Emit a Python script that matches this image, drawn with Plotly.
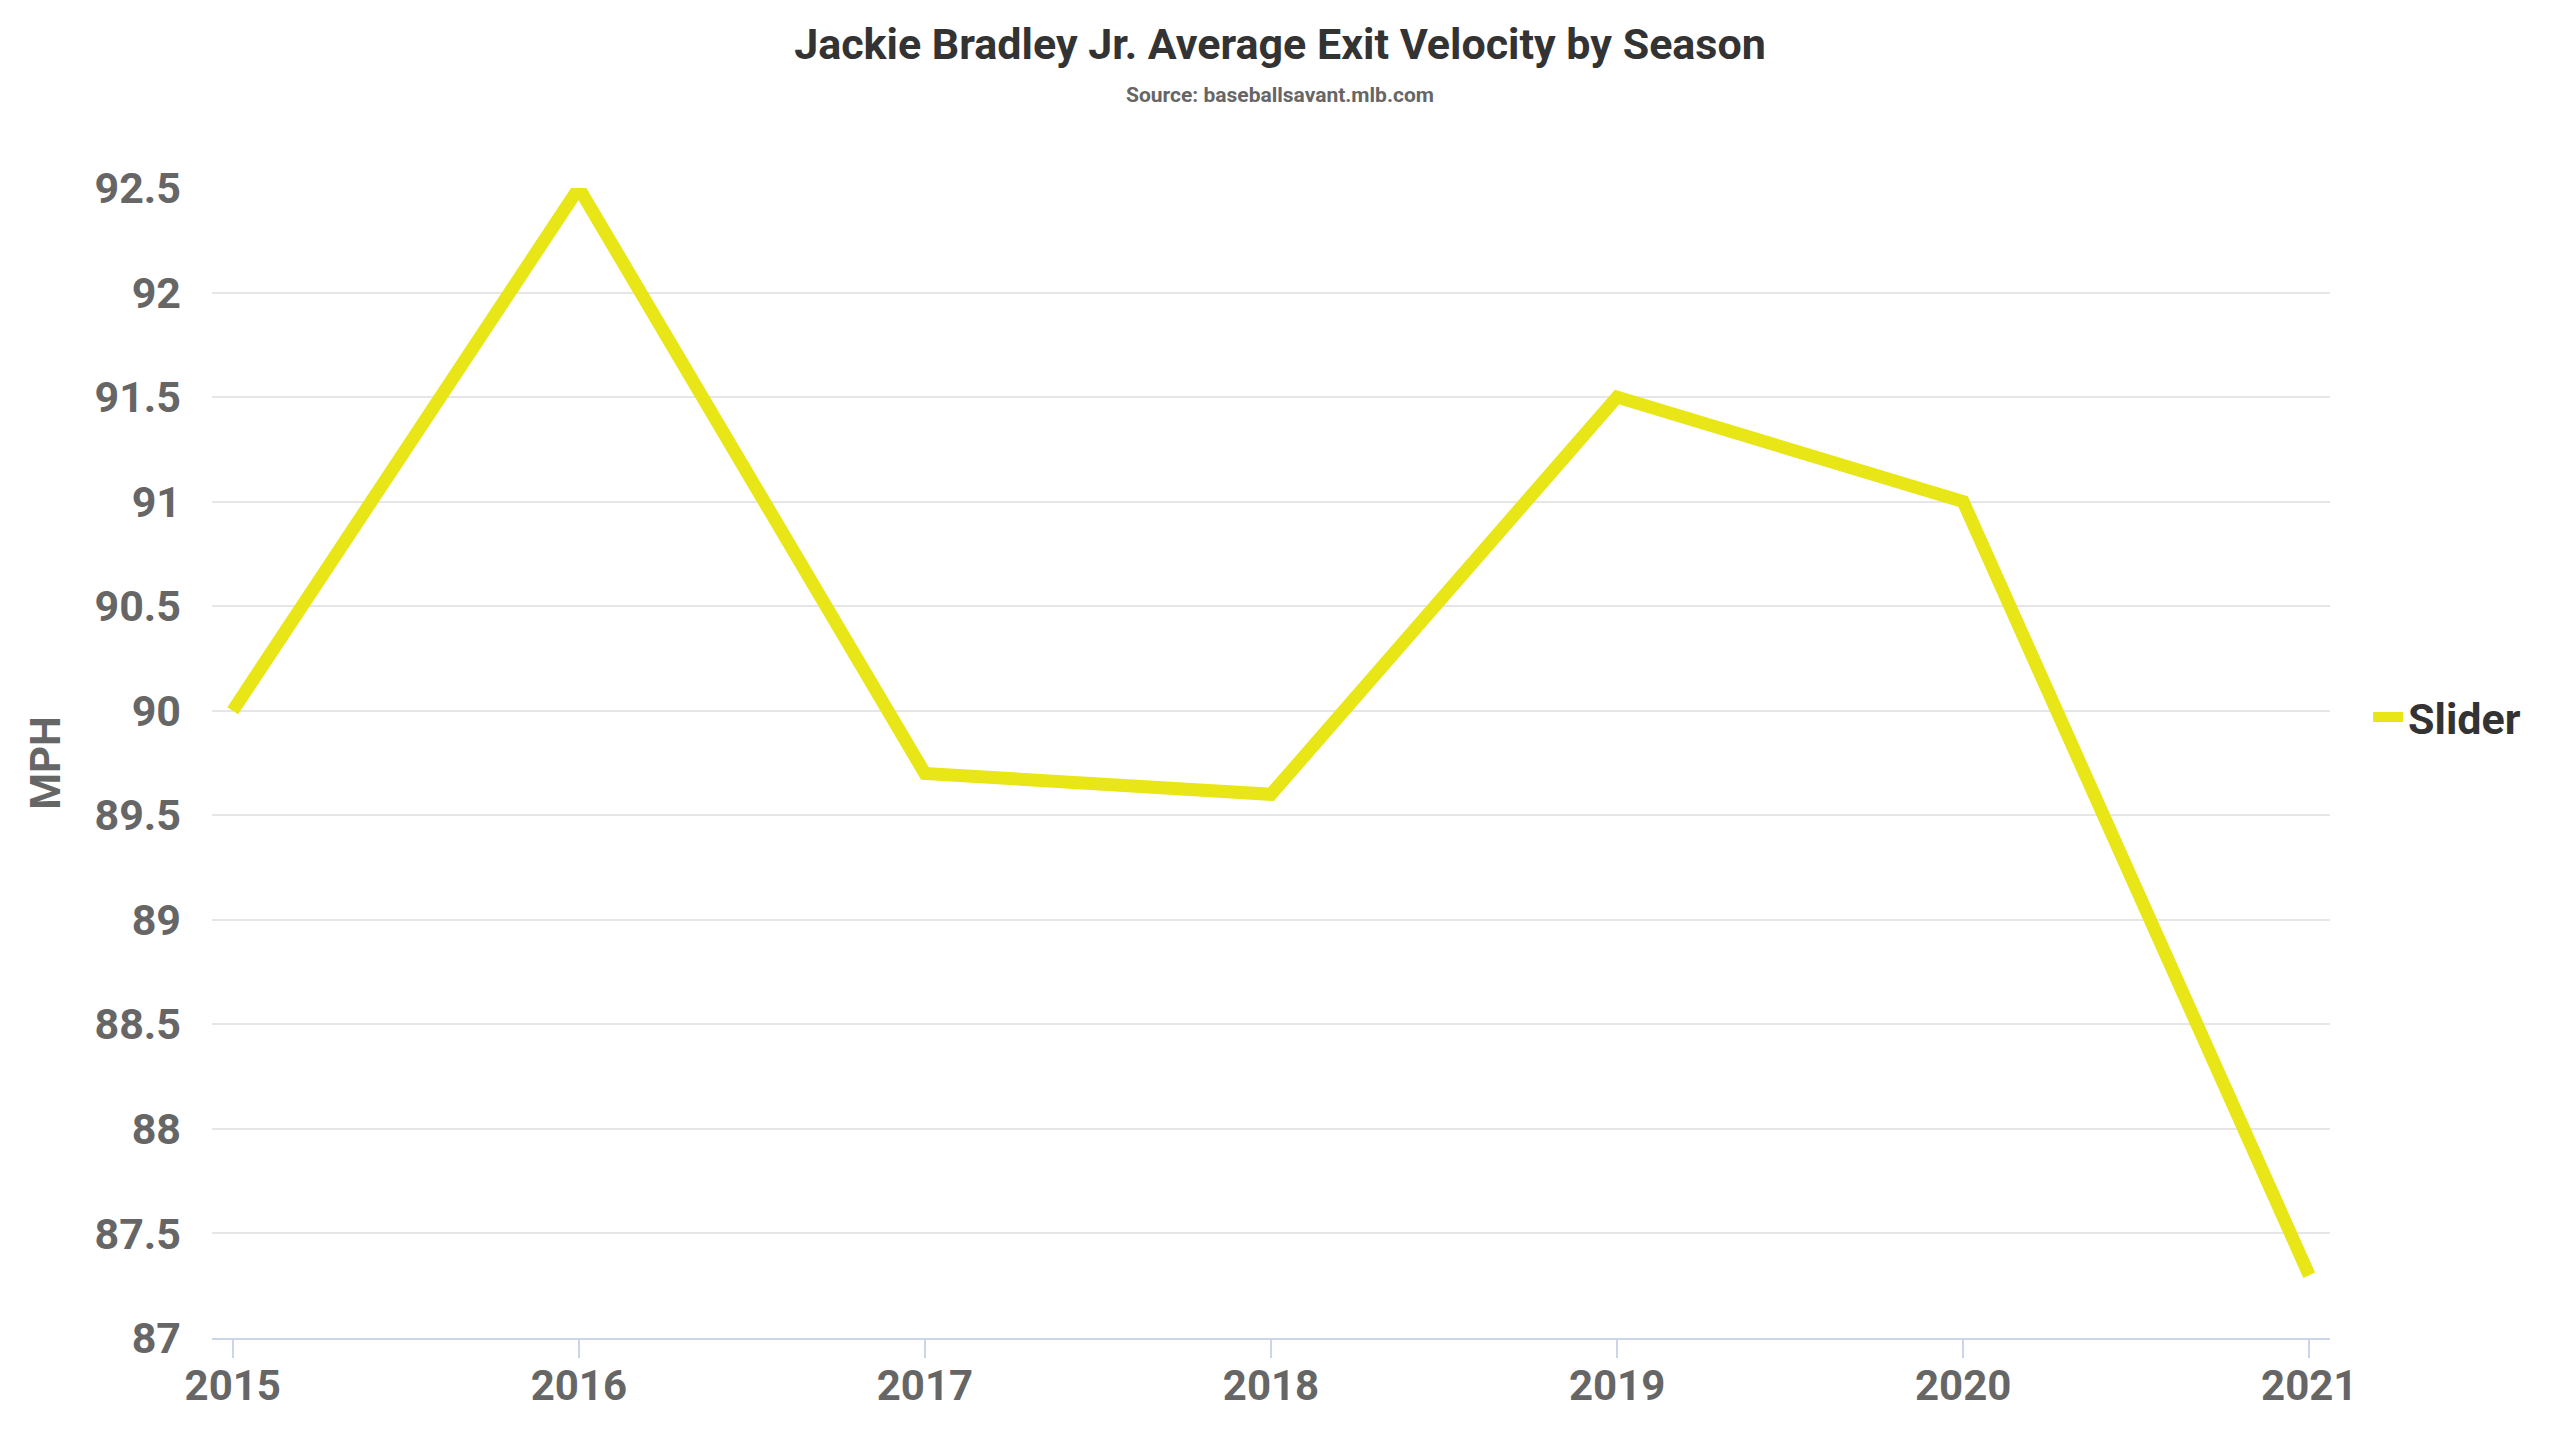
import plotly.graph_objects as go

# Data
seasons = [2015, 2016, 2017, 2018, 2019, 2020, 2021]
exit_velocity = [90.0, 92.5, 89.7, 89.6, 91.5, 91.0, 87.3]
y_ticks = [87, 87.5, 88, 88.5, 89, 89.5, 90, 90.5, 91, 91.5, 92, 92.5]
y_tick_labels = ["87", "87.5", "88", "88.5", "89", "89.5", "90", "90.5", "91", "91.5", "92", "92.5"]

FONT = "Roboto, sans-serif"
LINE_COLOR = "#e8e617"

W, H = 2560, 1440
M_LEFT, M_RIGHT = 204, 238
M_TOP, M_BOT = 180, 110
PLOT_H = H - M_TOP - M_BOT
PLOT_W = W - M_LEFT - M_RIGHT
CENTER_X = 1272  # horizontal centre of the title block in the reference

fig = go.Figure()

fig.add_trace(
    go.Scatter(
        x=seasons,
        y=exit_velocity,
        mode="lines",
        name="<b>Slider</b>",
        line=dict(color=LINE_COLOR, width=13),
        hoverinfo="x+y",
    )
)

fig.update_layout(
    width=W,
    height=H,
    paper_bgcolor="white",
    plot_bgcolor="white",
    margin=dict(l=M_LEFT, r=M_RIGHT, t=M_TOP, b=M_BOT, autoexpand=False),
    font=dict(family=FONT),
    title=dict(
        text="<b>Jackie Bradley Jr. Average Exit Velocity by Season</b>",
        x=CENTER_X / W,
        xref="container",
        xanchor="center",
        y=1 - 36 / H,
        yref="container",
        yanchor="middle",
        font=dict(size=43, color="#333333", family=FONT),
    ),
    legend=dict(
        x=1.018,
        xanchor="left",
        y=(H - M_BOT - 709) / PLOT_H,
        yanchor="middle",
        font=dict(size=43, color="#333333", family=FONT),
        itemwidth=30,
        bgcolor="rgba(0,0,0,0)",
    ),
    showlegend=True,
)

# Subtitle
fig.add_annotation(
    text="<b>Source: baseballsavant.mlb.com</b>",
    xref="paper",
    yref="paper",
    x=(CENTER_X - M_LEFT) / PLOT_W,
    y=1 + (M_TOP - 87) / PLOT_H,
    xanchor="center",
    yanchor="middle",
    showarrow=False,
    font=dict(size=21, color="#666666", family=FONT),
)

fig.update_xaxes(
    range=[2014.94, 2021.06],
    tickmode="array",
    tickvals=seasons,
    ticktext=[f"<b>{s}</b>" for s in seasons],
    showgrid=False,
    showline=True,
    linecolor="#ccd6eb",
    linewidth=2,
    ticks="outside",
    ticklen=18,
    tickwidth=2,
    tickcolor="#ccd6eb",
    ticklabelstandoff=-8,
    tickfont=dict(size=42, color="#666666", family=FONT),
    zeroline=False,
    fixedrange=True,
)

fig.update_yaxes(
    range=[87, 92.5],
    tickmode="array",
    tickvals=y_ticks,
    ticktext=[f"<b>{t}</b>" for t in y_tick_labels],
    showgrid=True,
    gridcolor="#e6e6e6",
    gridwidth=2,
    showline=False,
    zeroline=False,
    ticks="",
    ticklabelstandoff=30,
    tickfont=dict(size=43, color="#666666", family=FONT),
    title=dict(
        text="<b>MPH</b>",
        standoff=20,
        font=dict(size=42, color="#666666", family=FONT),
    ),
    fixedrange=True,
)

fig.write_html("out.html")
